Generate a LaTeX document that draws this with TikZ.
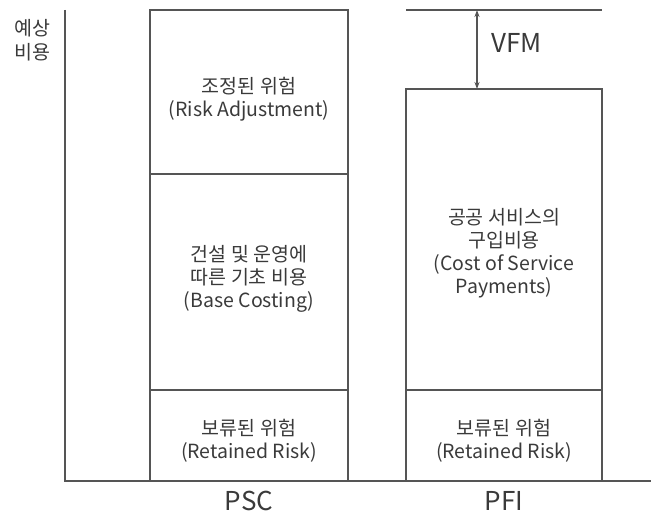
\documentclass[tikz,border=0pt]{standalone}
\usepackage{fontspec}
\setmainfont{Noto Sans CJK KR}
\usetikzlibrary{positioning,arrows.meta}
\definecolor{linegray}{HTML}{555555}
\definecolor{textgray}{HTML}{3A3A3A}

\tikzset{
	costbox/.style={draw=linegray, line width=1.2pt, inner sep=0pt, outer sep=0pt},
	boxtext/.style={align=center, text=textgray, font=\fontsize{19.5}{23}\selectfont},
	axislabel/.style={text=textgray, font=\fontsize{26}{30}\selectfont, anchor=base},
}

\begin{document}
\begin{tikzpicture}[x=1pt, y=1pt]
	\useasboundingbox (0,0) rectangle (651,512);
	% axes
	\coordinate (origin) at (65,31);
	\coordinate (ytop) at (65,502);
	\coordinate (xend) at (651,31);
	\draw[linegray, line width=1.2pt] (ytop) -- (origin) -- (xend);
	\node[boxtext, font=\fontsize{19.5}{24}\selectfont] (ylab) at (32,472) {예상\\비용};
	
	% PSC column
	\node[costbox, minimum width=198pt, minimum height=164pt] (psctop) at (249,420) {};
	\node[costbox, minimum width=198pt, minimum height=216pt, below=0pt of psctop] (pscmid) {};
	\node[costbox, minimum width=198pt, minimum height=91pt, below=0pt of pscmid] (pscbot) {};
	\node[boxtext] (psctoptxt) at ([yshift=-7pt]psctop.center) {조정된 위험\\(Risk Adjustment)};
	\node[boxtext] (pscmidtxt) at ([yshift=3pt]pscmid.center) {건설 및 운영에\\따른 기초 비용\\(Base Costing)};
	\node[boxtext] (pscbottxt) at ([yshift=-5pt]pscbot.center) {보류된 위험\\(Retained Risk)};
	
	% PFI column
	\node[costbox, minimum width=196pt, minimum height=91pt, right=58pt of pscbot] (pfibot) {};
	\node[costbox, minimum width=196pt, minimum height=301pt, above=0pt of pfibot] (pfimid) {};
	\node[boxtext] (pfimidtxt) at ([yshift=-14pt]pfimid.center) {공공 서비스의\\구입비용\\(Cost of Service\\Payments)};
	\node[boxtext] (pfibottxt) at ([yshift=-5pt]pfibot.center) {보류된 위험\\(Retained Risk)};
	
	% VFM gap
	\coordinate (vfmleft) at (406,502);
	\coordinate (vfmright) at (602,502);
	\coordinate (vfmtop) at (477,502);
	\draw[linegray, line width=1.2pt] (vfmleft) -- (vfmright);
	\draw[linegray, line width=1.2pt, {Stealth[length=7pt,width=5pt]}-{Stealth[length=7pt,width=5pt]}] (vfmtop) -- (vfmtop |- pfimid.north);
	\node[text=textgray, font=\fontsize{26}{30}\selectfont, anchor=west] (vfm) at (488,469) {VFM};
	
	% column labels
	\node[axislabel] (psc) at (pscbot.south |- 0,2) {PSC};
	\node[axislabel] (pfi) at (pfibot.south |- 0,2) {PFI};
\end{tikzpicture}
\end{document}
